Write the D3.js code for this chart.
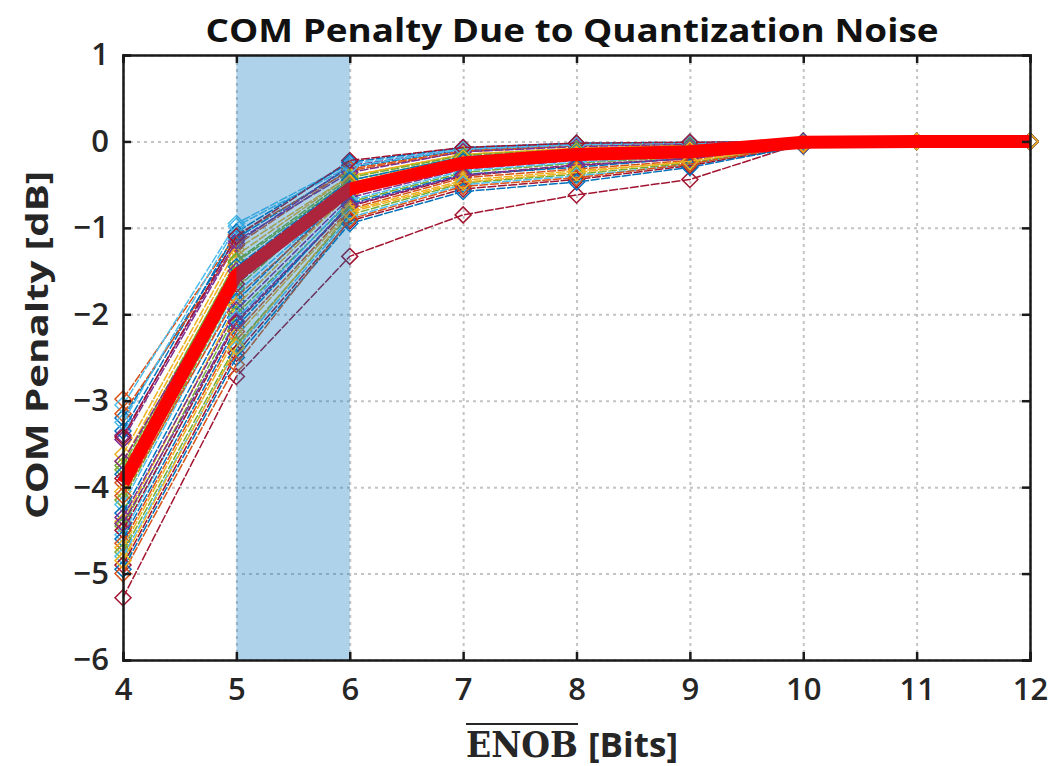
<!DOCTYPE html>
<html>
<head>
<meta charset="utf-8">
<script src="https://cdn.jsdelivr.net/npm/d3@7"></script>
<style>
  body { margin: 0; background: #fff; }
  .tick text { font-family: "Open Sans", sans-serif; font-weight: 600; fill: #262626; }
</style>
</head>
<body>
<div id="chart"></div>
<script>
// ENOB values on the x axis
var enob = [4, 5, 6, 7, 8, 9, 10, 11, 12];
var xTicks = [4, 5, 6, 7, 8, 9, 10, 11, 12];
var yTicks = [1, 0, -1, -2, -3, -4, -5, -6];
var shadedBand = [5, 6];

// MATLAB default line colours
var lineColors = ["#0072BD", "#D95319", "#EDB120", "#7E2F8E", "#77AC30", "#4DBEEE", "#A2142F"];

// one row per channel: COM penalty [dB] at each ENOB
var penalties = [
  [-3.20, -1.12, -0.30, -0.10, -0.04, -0.02, -0.01, 0, 0],
  [-2.98, -1.08, -0.34, -0.12, -0.05, -0.03, 0, 0, 0],
  [-3.62, -1.25, -0.40, -0.15, -0.08, -0.05, -0.01, 0, 0],
  [-3.45, -1.18, -0.28, -0.09, -0.04, -0.02, 0, 0, 0],
  [-3.75, -1.40, -0.45, -0.18, -0.10, -0.06, -0.01, 0, 0],
  [-3.05, -0.95, -0.26, -0.08, -0.03, -0.02, -0.05, 0, 0],
  [-5.28, -2.72, -1.33, -0.85, -0.62, -0.44, -0.02, 0, 0],
  [-3.35, -1.05, -0.24, -0.07, -0.02, -0.01, 0, 0, 0],
  [-3.15, -1.20, -0.32, -0.11, -0.05, -0.03, 0, 0, 0],
  [-3.70, -1.32, -0.40, -0.15, -0.08, -0.04, -0.01, 0, 0],
  [-3.40, -1.15, -0.36, -0.12, -0.06, -0.03, 0, 0, 0],
  [-3.80, -1.38, -0.42, -0.16, -0.09, -0.05, -0.01, 0, 0],
  [-3.25, -0.98, -0.29, -0.09, -0.04, -0.02, 0, 0, 0],
  [-3.42, -1.10, -0.22, -0.07, -0.02, -0.01, 0, 0, 0],
  [-3.85, -1.45, -0.45, -0.18, -0.10, -0.06, -0.01, 0, 0],
  [-3.95, -1.55, -0.50, -0.20, -0.12, -0.07, -0.01, 0, 0],
  [-4.05, -1.60, -0.48, -0.19, -0.11, -0.08, -0.02, 0, 0],
  [-3.70, -1.50, -0.55, -0.22, -0.13, -0.08, -0.01, 0, 0],
  [-4.15, -1.70, -0.52, -0.21, -0.12, -0.09, -0.02, 0, 0],
  [-4.20, -1.75, -0.58, -0.24, -0.14, -0.10, -0.02, 0, 0],
  [-3.90, -1.65, -0.60, -0.25, -0.16, -0.11, -0.02, 0, 0],
  [-4.30, -1.85, -0.56, -0.23, -0.14, -0.09, -0.01, 0, 0],
  [-4.10, -1.80, -0.62, -0.27, -0.17, -0.12, -0.02, 0, 0],
  [-4.40, -1.90, -0.60, -0.26, -0.15, -0.10, -0.02, 0, 0],
  [-4.35, -1.95, -0.65, -0.32, -0.22, -0.15, -0.02, 0, 0],
  [-4.45, -2.00, -0.70, -0.36, -0.25, -0.18, -0.03, 0, 0],
  [-4.55, -2.05, -0.68, -0.34, -0.24, -0.17, -0.02, 0, 0],
  [-4.50, -2.10, -0.75, -0.40, -0.28, -0.20, -0.03, 0, 0],
  [-4.60, -2.15, -0.72, -0.38, -0.30, -0.19, -0.03, 0, 0],
  [-4.65, -2.20, -0.78, -0.42, -0.32, -0.22, -0.03, 0, 0],
  [-4.70, -2.25, -0.80, -0.45, -0.34, -0.24, -0.04, 0, 0],
  [-4.42, -2.08, -0.74, -0.39, -0.27, -0.20, -0.03, 0, 0],
  [-4.75, -2.35, -0.85, -0.48, -0.38, -0.25, -0.04, 0, 0],
  [-4.80, -2.40, -0.88, -0.50, -0.40, -0.27, -0.04, 0, 0],
  [-4.90, -2.45, -0.92, -0.55, -0.44, -0.28, -0.05, 0, 0],
  [-4.95, -2.50, -0.95, -0.58, -0.47, -0.30, -0.05, 0, 0],
  [-5.00, -2.58, -0.90, -0.52, -0.42, -0.26, -0.04, 0, 0],
  [-4.85, -2.38, -0.82, -0.47, -0.36, -0.23, -0.03, 0, 0]
];

// thick red average curve
var meanPenalty = [-3.95, -1.55, -0.55, -0.25, -0.15, -0.12, -0.01, 0, 0];

var margin = { top: 55, right: 23, bottom: 106, left: 123 };
var width = 1053 - margin.left - margin.right;
var height = 766 - margin.top - margin.bottom;

var svg = d3.select("#chart").append("svg")
  .attr("width", 1053)
  .attr("height", 766);

var g = svg.append("g")
  .attr("transform", "translate(" + margin.left + "," + margin.top + ")");

var x = d3.scaleLinear().domain([4, 12]).range([0, width]);
var y = d3.scaleLinear().domain([-6, 1]).range([height, 0]);

// grid
g.append("g")
  .attr("class", "grid")
  .attr("transform", "translate(0," + height + ")")
  .call(d3.axisBottom(x).tickValues(xTicks).tickSize(-height).tickFormat(""));
g.append("g")
  .attr("class", "grid")
  .call(d3.axisLeft(y).tickValues(yTicks).tickSize(-width).tickFormat(""));
g.selectAll(".grid .domain").remove();

// channel curves
var line = d3.line()
  .x(function(d, i){ return x(enob[i]); })
  .y(function(d){ return y(d); });

var diamond = function(cx, cy){
  var r = 8;
  return "M" + cx + "," + (cy - r) + "L" + (cx + r) + "," + cy + "L" + cx + "," + (cy + r) + "L" + (cx - r) + "," + cy + "Z";
};

var curves = g.selectAll(".curve").data(penalties).enter()
  .append("g")
  .attr("class", "curve")
  .attr("stroke", function(d, i){ return lineColors[i % lineColors.length]; });

curves.append("path")
  .attr("d", line)
  .attr("fill", "none")
  .attr("stroke-width", 1.5)
  .attr("stroke-dasharray", "9,1.5");

curves.selectAll(".marker")
  .data(function(d){ return d; })
  .enter().append("path")
  .attr("class", "marker")
  .attr("d", function(d, i){ return diamond(x(enob[i]), y(d)); })
  .attr("fill", "none")
  .attr("stroke-width", 1.5);

// mean curve
g.append("path")
  .datum(meanPenalty)
  .attr("d", line)
  .attr("fill", "none")
  .attr("stroke", "#ff0000")
  .attr("stroke-width", 13)
  .attr("stroke-linejoin", "round");

// shaded ENOB band
g.append("rect")
  .attr("x", x(shadedBand[0]))
  .attr("y", 0)
  .attr("width", x(shadedBand[1]) - x(shadedBand[0]))
  .attr("height", height)
  .attr("fill", "#0072BD")
  .attr("fill-opacity", 0.32);

// axes (ticks pointing inward, box on all sides)
var xAxis = g.append("g")
  .attr("transform", "translate(0," + height + ")")
  .call(d3.axisBottom(x).tickValues(xTicks).tickSize(-8).tickPadding(18).tickFormat(d3.format("d")));
var yAxis = g.append("g")
  .call(d3.axisLeft(y).tickValues(yTicks).tickSize(-8).tickPadding(14).tickFormat(d3.format("d")));
g.append("g")
  .call(d3.axisTop(x).tickValues(xTicks).tickSize(-8).tickFormat(""));
g.append("g")
  .attr("transform", "translate(" + width + ",0)")
  .call(d3.axisRight(y).tickValues(yTicks).tickSize(-8).tickFormat(""));

g.selectAll(".domain, .tick line")
  .attr("stroke", "#1a1a1a")
  .attr("stroke-width", 2.5);
g.selectAll(".grid line")
  .attr("stroke", "#c4c4c4")
  .attr("stroke-width", 2)
  .attr("stroke-dasharray", "3,4");
g.selectAll(".tick text").style("font-size", "31px");
xAxis.selectAll(".tick text").attr("dy", "0.71em");

// labels
svg.append("text")
  .attr("x", 572)
  .attr("y", 42)
  .attr("text-anchor", "middle")
  .attr("textLength", 733)
  .attr("lengthAdjust", "spacingAndGlyphs")
  .style("font-family", "'Open Sans', sans-serif")
  .style("font-weight", "bold")
  .style("font-size", "32px")
  .style("fill", "#111")
  .text("COM Penalty Due to Quantization Noise");

svg.append("text")
  .attr("transform", "translate(48,345)rotate(-90)")
  .attr("text-anchor", "middle")
  .attr("textLength", 348)
  .attr("lengthAdjust", "spacingAndGlyphs")
  .style("font-family", "'Open Sans', sans-serif")
  .style("font-weight", "bold")
  .style("font-size", "31px")
  .style("fill", "#262626")
  .text("COM Penalty [dB]");

var xLabel = svg.append("g").attr("transform", "translate(0,757)");
xLabel.append("text")
  .attr("x", 466)
  .attr("y", 0)
  .attr("textLength", 112)
  .attr("lengthAdjust", "spacingAndGlyphs")
  .style("font-family", "'DejaVu Serif', 'Liberation Serif', serif")
  .style("font-weight", "bold")
  .style("font-size", "36px")
  .style("fill", "#262626")
  .text("ENOB");
xLabel.append("line")
  .attr("x1", 466).attr("x2", 578)
  .attr("y1", -33).attr("y2", -33)
  .attr("stroke", "#262626")
  .attr("stroke-width", 2);
xLabel.append("text")
  .attr("x", 588)
  .attr("y", 0)
  .attr("textLength", 90)
  .attr("lengthAdjust", "spacingAndGlyphs")
  .style("font-family", "'Open Sans', sans-serif")
  .style("font-weight", "bold")
  .style("font-size", "34px")
  .style("fill", "#262626")
  .text("[Bits]");
</script>
</body>
</html>
